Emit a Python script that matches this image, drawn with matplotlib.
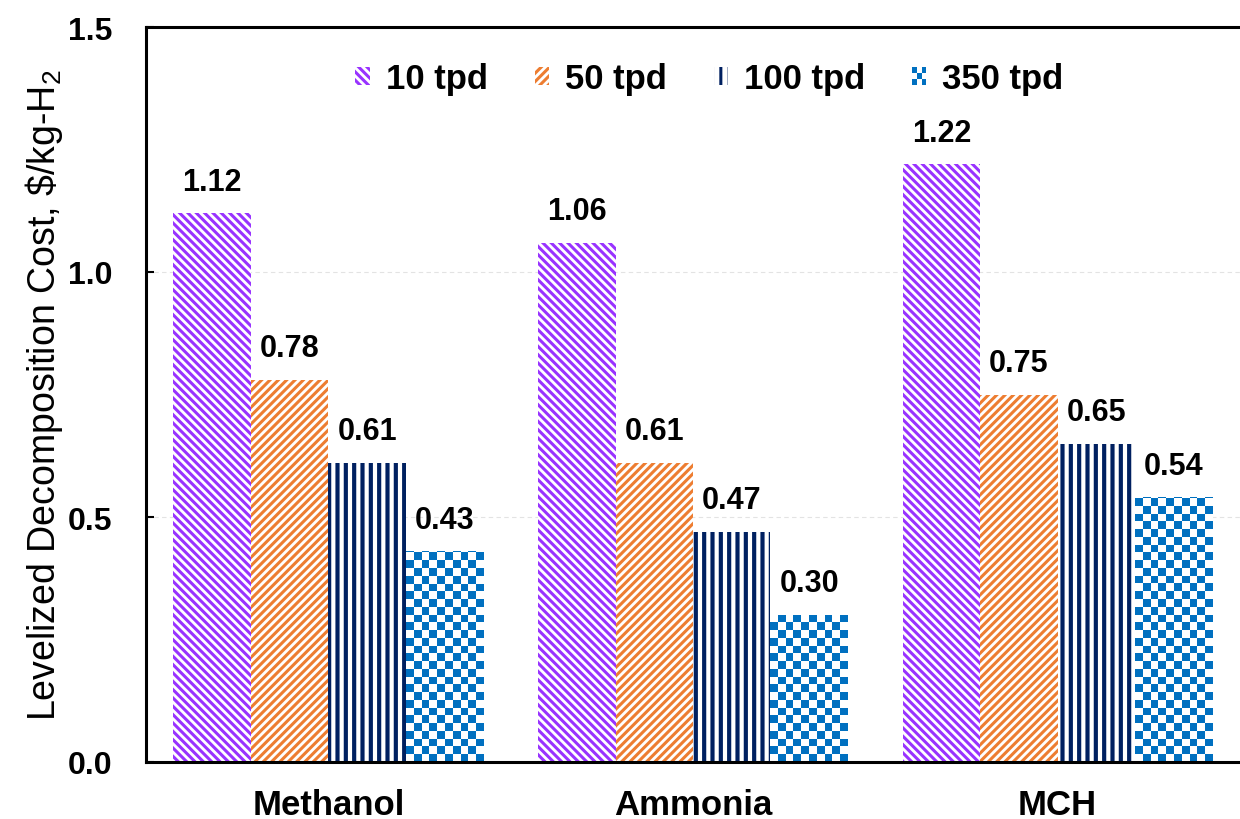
import numpy as np
import matplotlib
matplotlib.use("Agg")
import matplotlib.pyplot as plt
from matplotlib import font_manager
from matplotlib.patches import Rectangle
from matplotlib.colors import ListedColormap
from matplotlib.legend_handler import HandlerBase

categories = ["Methanol", "Ammonia", "MCH"]
series = ["10 tpd", "50 tpd", "100 tpd", "350 tpd"]
v10 = [1.12, 1.06, 1.22]
v50 = [0.78, 0.61, 0.75]
v100 = [0.61, 0.47, 0.65]
v350 = [0.43, 0.30, 0.54]
yticks = [0.0, 0.5, 1.0, 1.5]

colors = ["#9933FF", "#ED7D31", "#002060", "#0070C0"]
hatches = ["\\\\\\\\", "////", "||", None]
hatch_lw = [2.2, 2.2, 3.0, None]

plt.rcParams["font.family"] = ["Liberation Sans", "DejaVu Sans"]
plt.rcParams["mathtext.default"] = "regular"


class CheckerHandler(HandlerBase):
    def create_artists(self, legend, orig_handle, xdescent, ydescent,
                       width, height, fontsize, trans):
        arts = []
        n = 3
        w = width / n
        h = height / n
        for i in range(n):
            for j in range(n):
                c = orig_handle.get_facecolor() if (i + j) % 2 == 0 else "white"
                arts.append(Rectangle((-xdescent + i * w, -ydescent + j * h), w, h,
                                      facecolor=c, edgecolor="none", transform=trans))
        return arts


fig = plt.figure(figsize=(12.4, 8.2), dpi=100)
ax = fig.add_axes([146 / 1240, 1 - 763 / 820, 1 - 146 / 1240, (763 - 28) / 820])

x = np.arange(len(categories))
w = 0.2125
data = [v10, v50, v100, v350]
handles = []
for k, vals in enumerate(data):
    pos = x + (k - 1.5) * w
    if hatches[k] is not None:
        plt.rcParams["hatch.linewidth"] = hatch_lw[k]
        bars = ax.bar(pos, vals, w, facecolor="white", edgecolor=colors[k],
                      linewidth=0, hatch=hatches[k], label=series[k])
        for b in bars:
            if hasattr(b, "set_hatch_linewidth"):
                b.set_hatch_linewidth(hatch_lw[k])
        handles.append(bars[0])
    else:
        bars = ax.bar(pos, vals, w, facecolor="white", edgecolor="none",
                      linewidth=0, label=series[k])
        ax_w_px = fig.get_figwidth() * fig.dpi * ax.get_position().width
        ax_h_px = fig.get_figheight() * fig.dpi * ax.get_position().height
        sq_px = w * ax_w_px / 3.0 / 10
        sq_data_y = sq_px / ax_h_px * 1.5
        cmap = ListedColormap(["white", colors[k]])
        for b in bars:
            nrow = int(np.ceil(b.get_height() / sq_data_y))
            grid = (np.add.outer(np.arange(nrow), np.arange(10)) % 2)[::-1]
            im = ax.imshow(grid, cmap=cmap, interpolation="nearest", aspect="auto",
                           extent=(b.get_x(), b.get_x() + b.get_width(),
                                   0, nrow * sq_data_y), zorder=2)
            im.set_clip_path(b)
        handles.append(Rectangle((0, 0), 1, 1, facecolor=colors[k], label=series[k]))
    for b, v in zip(bars, vals):
        ax.annotate(f"{v:.2f}", (b.get_x() + b.get_width() / 2, v),
                    xytext=(0, 12), textcoords="offset points", ha="center",
                    va="bottom", fontsize=22, fontweight="bold", zorder=5)
plt.rcParams["hatch.linewidth"] = 2.2

ax.set_xlim(-0.5, 2.5)
ax.set_ylim(0, 1.5)
ax.set_yticks(yticks)
ax.set_yticklabels([f"{t:.1f}" for t in yticks], fontsize=23, fontweight="bold")
ax.set_xticks(x)
ax.set_xticklabels(categories, fontsize=25, fontweight="bold")
ax.tick_params(axis="x", length=0, pad=19)
ax.tick_params(axis="y", direction="in", length=6, width=1.5, pad=24)
ax.yaxis.grid(True, color="#e3e3e3", linestyle=(0, (4, 3)), linewidth=0.8)
ax.set_axisbelow(True)
for s in ["left", "bottom", "top"]:
    ax.spines[s].set_linewidth(2.2)
ax.spines["right"].set_visible(False)

try:
    font_manager.findfont("Liberation Sans Narrow", fallback_to_default=False)
    narrow, ysize = True, 29
except Exception:
    narrow, ysize = False, 27
yfam = ["Liberation Sans Narrow", "Liberation Sans", "DejaVu Sans"] if narrow else ["Liberation Sans", "DejaVu Sans"]
ax.set_ylabel(r"Levelized Decomposition Cost, \$/kg-H$_2$", fontsize=ysize,
              family=yfam, labelpad=2)

leg = ax.legend(handles=handles, labels=series, loc="center",
                bbox_to_anchor=(0.515, 0.93), ncol=4, frameon=False,
                prop={"size": 25, "weight": "bold"}, handlelength=0.42,
                handleheight=0.42, handletextpad=0.45, columnspacing=1.35,
                handler_map={handles[3]: CheckerHandler()})

fig.savefig("out.png", dpi=100)
